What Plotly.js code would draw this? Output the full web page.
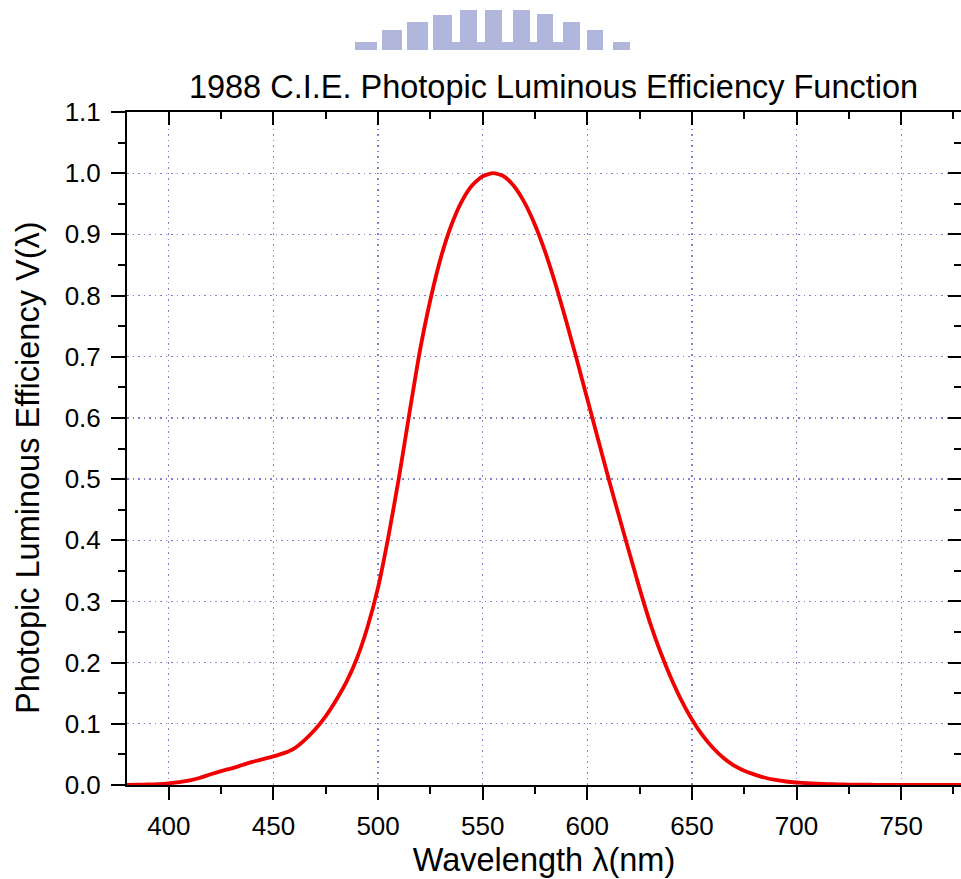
<!DOCTYPE html>
<html><head><meta charset="utf-8">
<script src="https://cdn.plot.ly/plotly-3.0.1.min.js"></script>
<style>html,body{margin:0;padding:0;background:#fff}</style>
</head><body>
<div id="chart" style="width:961px;height:879px"></div>
<script>
// CIE 1988 photopic luminous efficiency V(lambda), 5 nm steps
const wavelength = [380,385,390,395,400,405,410,415,420,425,430,435,440,445,450,455,460,465,470,475,480,485,490,495,500,505,510,515,520,525,530,535,540,545,550,555,560,565,570,575,580,585,590,595,600,605,610,615,620,625,630,635,640,645,650,655,660,665,670,675,680,685,690,695,700,705,710,715,720,725,730,735,740,745,750,755,760,765,770,775,780];
const efficiency = [0.0002,0.0004,0.0008,0.0015,0.0028,0.0047,0.0074,0.0118,0.0175,0.0227,0.0273,0.0326,0.0379,0.0424,0.0468,0.0521,0.060,0.0739,0.091,0.1126,0.139,0.1693,0.208,0.2586,0.323,0.4073,0.503,0.6082,0.710,0.7932,0.862,0.9149,0.954,0.9803,0.995,1.000,0.995,0.9786,0.952,0.9154,0.870,0.8163,0.757,0.6949,0.631,0.5668,0.503,0.4412,0.381,0.321,0.265,0.217,0.175,0.1382,0.107,0.0816,0.061,0.0446,0.032,0.0232,0.017,0.0119,0.0082,0.0057,0.0041,0.0029,0.0021,0.0015,0.0010,0.0007,0.0005,0.0004,0.0002,0.0002,0.0001,0.0001,0.0001,0.0000,0.0000,0.0000,0.0000];
const xTicks = [400,450,500,550,600,650,700,750];
const yTicks = [0.0,0.1,0.2,0.3,0.4,0.5,0.6,0.7,0.8,0.9,1.0,1.1];
const yTickLabels = yTicks.map(v => v.toFixed(1));
const titleText = '1988 C.I.E. Photopic Luminous Efficiency Function';
const xTitleText = 'Wavelength λ(nm)';
const yTitleText = 'Photopic Luminous Efficiency V(λ)';

const FONT = "Liberation Sans, Arial, sans-serif";
const XRANGE = [380, 778.6];
const YRANGE = [0, 1.1];

const traces = [
  {x: wavelength, y: efficiency, type: 'scatter', mode: 'lines',
   line: {color: '#f00000', width: 3.8, shape: 'spline', smoothing: 0.6}, hoverinfo: 'x+y', showlegend: false},
  {x: wavelength, y: efficiency, xaxis: 'x2', yaxis: 'y2', type: 'scatter', mode: 'lines',
   line: {color: 'rgba(0,0,0,0)', width: 0}, hoverinfo: 'skip', showlegend: false}
];

// watermark bars (decoration)
const wm = [[355,377,42],[382,402,30],[407,428,22],[433,452,15],[460,477,10],[485,502,10],[513,530,10],[537,553,14],[563,580,22],[587,603,30],[613,630,42]];
const shapes = wm.map(b => ({type:'rect', xref:'paper', yref:'paper',
  x0:(b[0]-127)/834, x1:(b[1]-127)/834, y0:(785-50)/673, y1:(785-b[2])/673,
  fillcolor:'#b0b6dc', line:{width:0}, layer:'below'}));
shapes.push({type:'rect', xref:'paper', yref:'paper', x0:(437-127)/834, x1:(577-127)/834,
  y0:(785-50)/673, y1:(785-42)/673, fillcolor:'#b0b6dc', line:{width:0}, layer:'below'});

const GRID = '#8080cc';
const layout = {
  width: 961, height: 879,
  margin: {l: 127, r: 0, t: 112, b: 94},
  paper_bgcolor: '#fff', plot_bgcolor: '#fff',
  font: {family: FONT, color: '#000', size: 26},
  title: {text: titleText, font: {family: FONT, size: 32.5, color: '#000'},
          x: 0.576, xanchor: 'center', y: 1 - 87/879, yanchor: 'middle', yref: 'container'},
  xaxis: {range: XRANGE, tickvals: xTicks, ticks: 'outside', ticklen: 13, tickwidth: 2, tickcolor: '#000',
          showline: true, linecolor: '#000', linewidth: 2, zeroline: false,
          showgrid: true, gridcolor: GRID, griddash: '1.5px,4px', gridwidth: 1.2,
          minor: {dtick: 25, tick0: 375, ticks: 'outside', ticklen: 7, tickwidth: 2, tickcolor: '#000', showgrid: false},
          tickfont: {family: FONT, size: 26}, ticklabelstandoff: 4,
          title: {text: xTitleText, font: {family: FONT, size: 32.5}, standoff: 8}},
  yaxis: {range: YRANGE, tickvals: yTicks, ticktext: yTickLabels, ticks: 'outside', ticklen: 14, tickwidth: 2, tickcolor: '#000',
          showline: true, linecolor: '#000', linewidth: 2, zeroline: false,
          showgrid: true, gridcolor: GRID, griddash: '1.5px,4px', gridwidth: 1.2,
          minor: {dtick: 0.05, tick0: 0, ticks: 'outside', ticklen: 7, tickwidth: 2, tickcolor: '#000', showgrid: false},
          tickfont: {family: FONT, size: 26}, ticklabelstandoff: 5},
  xaxis2: {range: XRANGE, overlaying: 'x', side: 'top', tickvals: xTicks, ticks: 'inside', ticklen: 13, tickwidth: 2, tickcolor: '#000',
           showticklabels: false, showline: true, linecolor: '#000', linewidth: 2, showgrid: false, zeroline: false,
           minor: {dtick: 25, tick0: 375, ticks: 'inside', ticklen: 7, tickwidth: 2, tickcolor: '#000', showgrid: false}},
  yaxis2: {range: YRANGE, overlaying: 'y', side: 'right', tickvals: yTicks, ticks: 'inside', ticklen: 13, tickwidth: 2, tickcolor: '#000',
           showticklabels: false, showline: false, showgrid: false, zeroline: false,
           minor: {dtick: 0.05, tick0: 0, ticks: 'inside', ticklen: 7, tickwidth: 2, tickcolor: '#000', showgrid: false}},
  annotations: [{text: yTitleText, xref: 'paper', yref: 'paper', x: 0, y: (785 - 468) / 673,
                 xanchor: 'center', yanchor: 'middle', xshift: -99, textangle: -90, showarrow: false,
                 font: {family: FONT, size: 32.5, color: '#000'}}],
  shapes: shapes,
  showlegend: false
};

Plotly.newPlot('chart', traces, layout, {displayModeBar: false, staticPlot: true});
</script>
</body></html>
